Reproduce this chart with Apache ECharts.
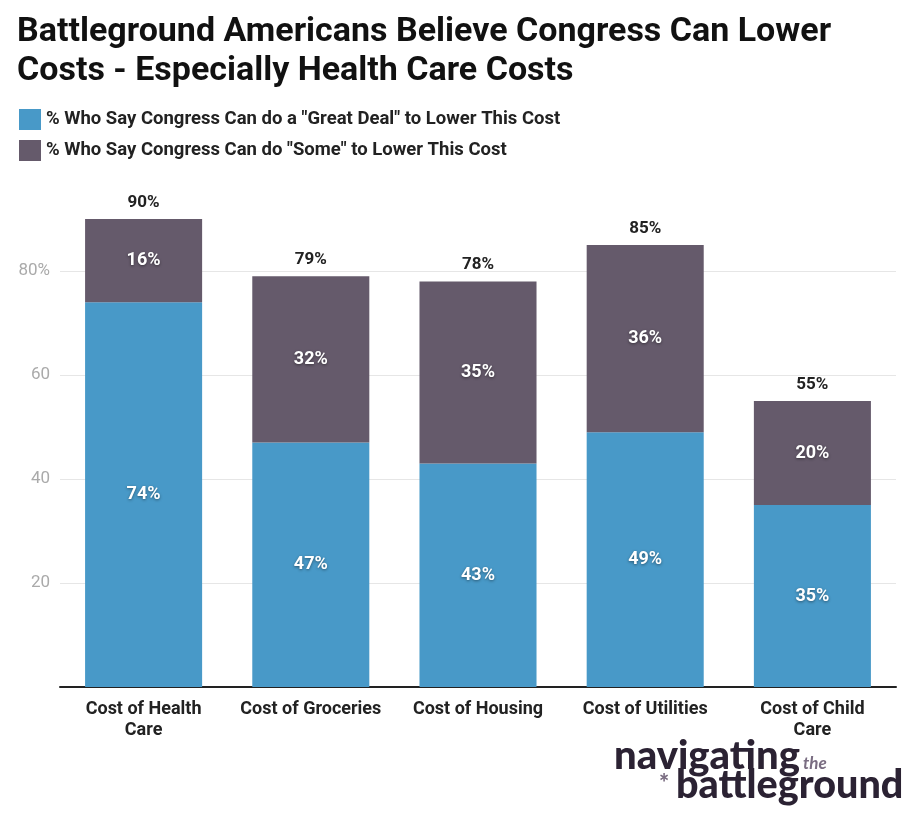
<!DOCTYPE html>
<html><head><meta charset="utf-8">
<script src="https://cdn.jsdelivr.net/npm/echarts@6/dist/echarts.min.js"></script>
<style>html,body{margin:0;padding:0;background:#fff}#c{width:920px;height:824px}</style>
</head><body><div id="c"></div>
<script>
const categories = ["Cost of Health\nCare", "Cost of Groceries", "Cost of Housing", "Cost of Utilities", "Cost of Child\nCare"];
const greatDeal = [74, 47, 43, 49, 35];
const some = [16, 32, 35, 36, 20];
const seriesNames = ['% Who Say Congress Can do a "Great Deal" to Lower This Cost', '% Who Say Congress Can do "Some" to Lower This Cost'];
const totals = greatDeal.map((v, i) => v + some[i]);

const chart = echarts.init(document.getElementById('c'));
const F = 'Roboto, "Noto Sans", sans-serif';
const insideLabel = {
  show: true, position: 'inside', formatter: '{c}%', color: '#fff', fontFamily: F,
  fontWeight: 'bold', fontSize: 18, textShadowColor: 'rgba(0,0,0,0.45)', textShadowBlur: 3,
  textShadowOffsetX: 0, textShadowOffsetY: 1
};
chart.setOption({
  animation: false,
  title: {
    text: 'Battleground Americans Believe Congress Can Lower\nCosts - Especially Health Care Costs',
    left: 12, top: 8,
    textStyle: { fontFamily: F, fontWeight: 'bold', fontSize: 34, lineHeight: 39, color: '#111' }
  },
  legend: {
    orient: 'vertical', left: 14, top: 104, itemGap: 10, itemWidth: 22, itemHeight: 21,
    icon: 'rect', data: seriesNames,
    textStyle: { fontFamily: F, fontWeight: 'bold', fontSize: 18.5, color: '#222' }
  },
  grid: { left: 60, right: 24, top: 167, bottom: 137 },
  xAxis: {
    type: 'category', data: categories,
    axisLine: { lineStyle: { color: '#222', width: 2 } },
    axisTick: { show: false },
    axisLabel: { interval: 0, hideOverlap: false, fontFamily: F, fontWeight: 'bold', fontSize: 18, color: '#222', margin: 12, lineHeight: 21 }
  },
  yAxis: {
    type: 'value', min: 0, max: 100, interval: 20,
    axisLine: { show: false }, axisTick: { show: false },
    axisLabel: {
      fontFamily: F, fontSize: 17, color: '#aaa', margin: 10, showMinLabel: false, showMaxLabel: false,
      formatter: v => v === 80 ? '80%' : String(v)
    },
    splitLine: { lineStyle: { color: '#e6e6e6' }, showMinLine: false, showMaxLine: false }
  },
  series: [
    { name: seriesNames[0], type: 'bar', stack: 'a', barWidth: '70%', data: greatDeal,
      itemStyle: { color: '#4899c8' }, label: insideLabel },
    { name: seriesNames[1], type: 'bar', stack: 'a', data: some,
      itemStyle: { color: '#655a6b' }, label: insideLabel },
    { name: 'total', type: 'bar', stack: 'a', data: totals.map(() => 0),
      itemStyle: { color: 'transparent' }, legendHoverLink: false,
      label: { show: true, position: 'top', distance: 8, fontFamily: F, fontWeight: 'bold', fontSize: 17, color: '#222',
        formatter: p => totals[p.dataIndex] + '%' } }
  ],
  graphic: [
    { type: 'text', left: 614, top: 736, style: { text: 'navigating', fontFamily: 'Lato, "Open Sans", sans-serif', fontWeight: 900, fontSize: 40, fill: '#2b2233' } },
    { type: 'text', left: 803, top: 755, style: { text: 'the', fontFamily: 'Lato, sans-serif', fontStyle: 'italic', fontWeight: 'bold', fontSize: 17, fill: '#7a6d82' } },
    { type: 'text', left: 659, top: 772, style: { text: '*', fontFamily: 'Lato, sans-serif', fontWeight: 900, fontSize: 24, fill: '#7a6d82' } },
    { type: 'text', left: 676, top: 765, style: { text: 'battleground', fontFamily: 'Lato, "Open Sans", sans-serif', fontWeight: 900, fontSize: 39.5, fill: '#2b2233' } }
  ]
});
</script></body></html>
